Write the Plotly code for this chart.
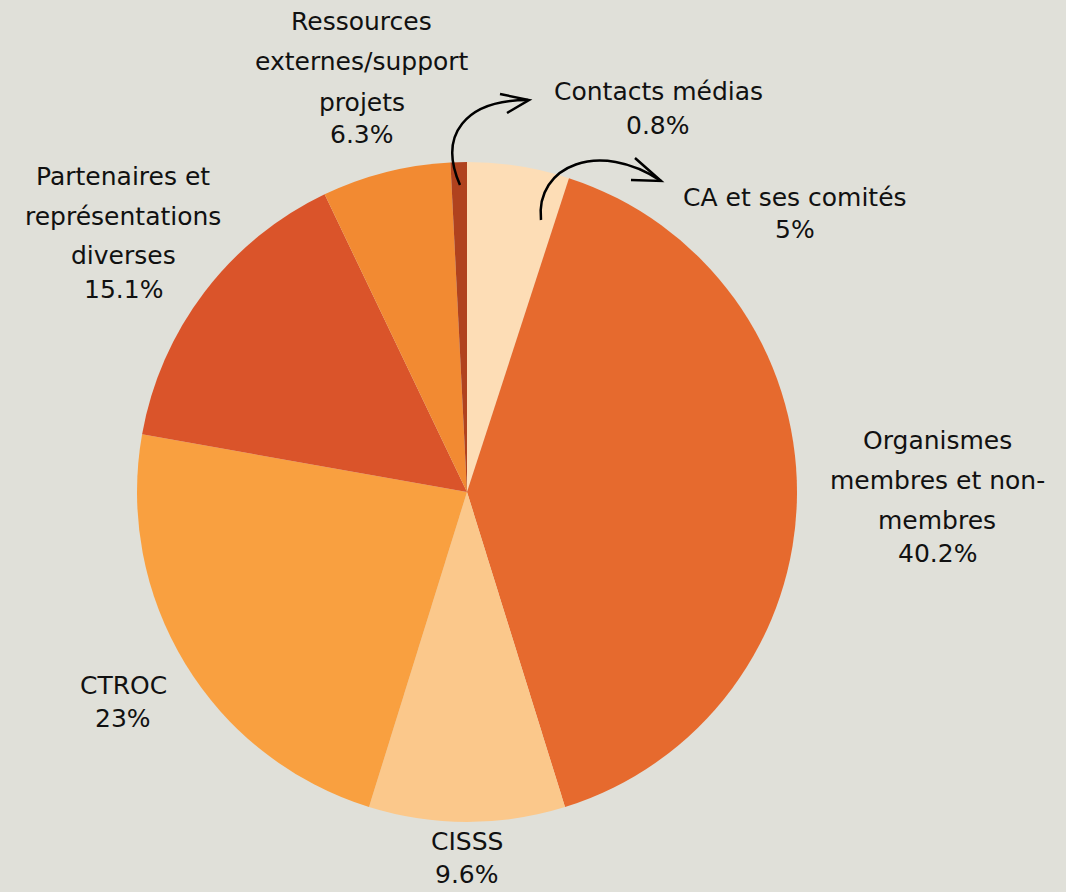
import plotly.graph_objects as go

W, H = 1066, 892

labels = ["CA et ses comités", "Organismes membres et non-membres", "CISSS", "CTROC",
          "Partenaires et représentations diverses", "Ressources externes/support projets",
          "Contacts médias"]
values = [5, 40.2, 9.6, 23, 15.1, 6.3, 0.8]
pct_text = ["5%", "40.2%", "9.6%", "23%", "15.1%", "6.3%", "0.8%"]
label_lines = [
    ["CA et ses comités"],
    ["Organismes", "membres et non-", "membres"],
    ["CISSS"],
    ["CTROC"],
    ["Partenaires et", "représentations", "diverses"],
    ["Ressources", "externes/support", "projets"],
    ["Contacts médias"],
]
colors = ["#FDDDB6", "#E66A2E", "#FBC88B", "#F9A040", "#DA542A", "#F28A32", "#B0421E"]
# label block: centre x and first-line centre y, in pixels
label_pos = [(795, 197), (937, 440), (467, 841), (123, 685), (123, 176), (362, 22), (658, 92)]
LINE_GAP, PCT_GAP = 40, 33

cx, cy, r = 467, 492, 330

def px(x):
    return x / W

def py(y):
    return 1 - y / H

fig = go.Figure(go.Pie(
    labels=labels, values=values, sort=False, direction="clockwise", rotation=0,
    marker=dict(colors=colors, line=dict(width=0)),
    textinfo="none", hoverinfo="label+percent", showlegend=False,
    domain=dict(x=[px(cx - r), px(cx + r)], y=[py(cy + r), py(cy - r)]),
))

font = dict(family="DejaVu Sans, sans-serif", size=25, color="#111111")
for lines, pct, (x, y0) in zip(label_lines, pct_text, label_pos):
    ys = [y0 + i * LINE_GAP for i in range(len(lines))]
    ys.append(ys[-1] + PCT_GAP)
    for t, y in zip(lines + [pct], ys):
        fig.add_annotation(x=px(x), y=py(y), xref="paper", yref="paper",
                           text=t, showarrow=False, font=font, borderpad=0,
                           xanchor="center", yanchor="middle", align="center")

arrow_style = dict(type="path", xref="paper", yref="paper",
                   line=dict(color="#000000", width=2.5))
# curved arrow to "Contacts médias"
fig.add_shape(path=f"M {px(460):.5f},{py(185):.5f} C {px(438):.5f},{py(135):.5f} {px(465):.5f},{py(100):.5f} {px(528):.5f},{py(100):.5f}", **arrow_style)
fig.add_shape(path=f"M {px(500):.5f},{py(94):.5f} L {px(529):.5f},{py(100):.5f} L {px(507):.5f},{py(113):.5f}", **arrow_style)
# curved arrow to "CA et ses comités"
fig.add_shape(path=f"M {px(541):.5f},{py(220):.5f} C {px(535):.5f},{py(165):.5f} {px(600):.5f},{py(140):.5f} {px(661):.5f},{py(181):.5f}", **arrow_style)
fig.add_shape(path=f"M {px(635):.5f},{py(158):.5f} L {px(661):.5f},{py(181):.5f} L {px(631):.5f},{py(180):.5f}", **arrow_style)

fig.update_layout(width=W, height=H, margin=dict(l=0, r=0, t=0, b=0),
                  paper_bgcolor="#E0E0D9", plot_bgcolor="#E0E0D9")
fig.write_html("out.html", config={"displayModeBar": False},
               post_script="document.body.style.margin='0';document.body.style.background='#E0E0D9';")
